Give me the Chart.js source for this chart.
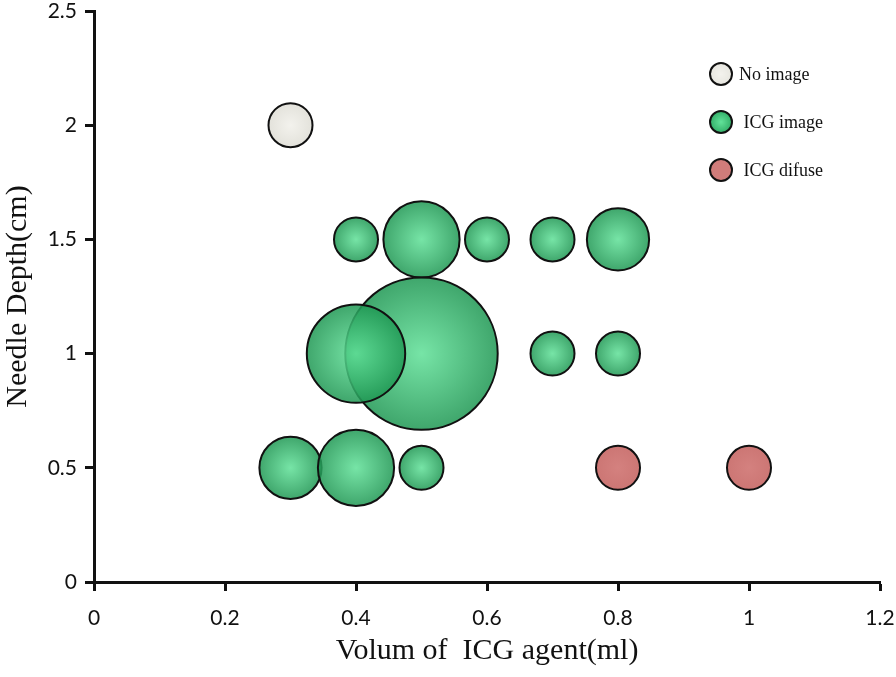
<!DOCTYPE html>
<html>
<head>
<meta charset="utf-8">
<title>ICG bubble chart</title>
<script src="https://cdn.jsdelivr.net/npm/chart.js@4.4.1/dist/chart.umd.min.js"></script>
<style>
	body { margin: 0; background: #fff; }
	#wrap { position: relative; width: 896px; height: 677px; }
	#legend { position: absolute; left: 709px; top: 62px; font-family: "Liberation Serif", serif; font-size: 18px; color: #111; }
	#legend .item { position: relative; height: 48px; }
	#legend .dot { position: absolute; left: 0; top: 0; width: 20px; height: 20px; border: 2px solid #111; border-radius: 50%; }
	#legend .lbl { position: absolute; left: 30px; top: 0; line-height: 24px; white-space: nowrap; }
</style>
</head>
<body>
<div id="wrap">
	<canvas id="myChart" width="896" height="677"></canvas>
	<div id="legend">
		<div class="item"><span class="dot" style="background: radial-gradient(circle, #f3f2ed, #e4e3dc);"></span><span class="lbl">No image</span></div>
		<div class="item"><span class="dot" style="background: radial-gradient(circle, #62e29a, #25a05a);"></span><span class="lbl">&nbsp;ICG image</span></div>
		<div class="item"><span class="dot" style="background: #d07c7a;"></span><span class="lbl">&nbsp;ICG difuse</span></div>
	</div>
</div>
<script>
// data (n = number of cases at that point)
const noImageX = [0.3];
const noImageY = [2];
const noImageN = [1];

const icgImageX = [0.4, 0.5, 0.6, 0.7, 0.8, 0.5, 0.4, 0.7, 0.8, 0.3, 0.4, 0.5];
const icgImageY = [1.5, 1.5, 1.5, 1.5, 1.5, 1, 1, 1, 1, 0.5, 0.5, 0.5];
const icgImageN = [1, 3, 1, 1, 2, 12, 5, 1, 1, 2, 3, 1];

const icgDifuseX = [0.8, 1.0];
const icgDifuseY = [0.5, 0.5];
const icgDifuseN = [1, 1];

const xTicks = [0, 0.2, 0.4, 0.6, 0.8, 1, 1.2];
const yTicks = [0, 0.5, 1, 1.5, 2, 2.5];

const BASE_R = 22;

// big bubbles should not shrink the plot area
Chart.BubbleController.prototype.getMaxOverflow = function () { return 0; };

function points(xs, ys, ns) {
	return xs.map((x, i) => ({ x: x, y: ys[i], r: BASE_R * Math.sqrt(ns[i]) }));
}

// radial shading like the original bubbles
function shade(inner, outer) {
	return function (ctx) {
		const chart = ctx.chart;
		const sx = chart.scales.x, sy = chart.scales.y;
		if (ctx.type !== 'data' || !sx || !sy || !ctx.raw) return outer;
		const px = sx.getPixelForValue(ctx.raw.x);
		const py = sy.getPixelForValue(ctx.raw.y);
		if (!isFinite(px) || !isFinite(py)) return outer;
		const g = chart.ctx.createRadialGradient(px, py, 0, px, py, ctx.raw.r);
		g.addColorStop(0, inner);
		g.addColorStop(1, outer);
		return g;
	};
}

const tickFont = { family: 'Lato', size: 21 };
const titleFont = { family: 'Liberation Serif', size: 30, lineHeight: 1 };

const ctx = document.getElementById('myChart');
const myChart = new Chart(ctx, {
	type: 'bubble',
	data: {
		datasets: [{
			label: 'No image',
			data: points(noImageX, noImageY, noImageN),
			backgroundColor: shade('#f3f2ed', '#e3e2db'),
			borderColor: '#111',
			borderWidth: 2,
			clip: false,
		}, {
			label: 'ICG image',
			data: points(icgImageX, icgImageY, icgImageN),
			backgroundColor: shade('rgba(96,224,152,0.86)', 'rgba(32,152,84,0.86)'),
			borderColor: '#111',
			borderWidth: 2,
			clip: false,
		}, {
			label: 'ICG difuse',
			data: points(icgDifuseX, icgDifuseY, icgDifuseN),
			backgroundColor: shade('#d4817f', '#cc7674'),
			borderColor: '#111',
			borderWidth: 2,
			clip: false,
		}]
	},
	options: {
		responsive: false,
		animation: false,
		events: [],
		layout: { padding: { top: 11, right: 16, left: 0, bottom: 0 } },
		plugins: {
			legend: { display: false },
			tooltip: { enabled: false },
		},
		scales: {
			x: {
				type: 'linear',
				min: 0,
				max: 1.2,
				afterBuildTicks: axis => { axis.ticks = xTicks.map(v => ({ value: v })); },
				afterFit: axis => {
					axis.height = 95;
					axis.paddingLeft = 0;
					axis.paddingRight = 0;
				},
				grid: { drawOnChartArea: false, drawTicks: true, tickLength: 9, tickWidth: 3, tickColor: '#111' },
				border: { color: '#111', width: 3 },
				ticks: { font: tickFont, color: '#111', padding: 15, maxRotation: 0, callback: v => String(v) },
				title: { display: true, text: 'Volum of  ICG agent(ml)', font: titleFont, color: '#111', padding: { top: 0, bottom: 11 } },
			},
			y: {
				type: 'linear',
				min: 0,
				max: 2.5,
				afterBuildTicks: axis => { axis.ticks = yTicks.map(v => ({ value: v })); },
				afterFit: axis => {
					axis.width = 94;
					axis.paddingTop = 0;
					axis.paddingBottom = 0;
				},
				grid: { drawOnChartArea: false, drawTicks: true, tickLength: 9, tickWidth: 3, tickColor: '#111' },
				border: { color: '#111', width: 3 },
				ticks: { font: tickFont, color: '#111', padding: 8, callback: v => String(v) },
				title: { display: true, text: 'Needle Depth(cm)', font: titleFont, color: '#111', padding: 3 },
			}
		}
	}
});
</script>
</body>
</html>
